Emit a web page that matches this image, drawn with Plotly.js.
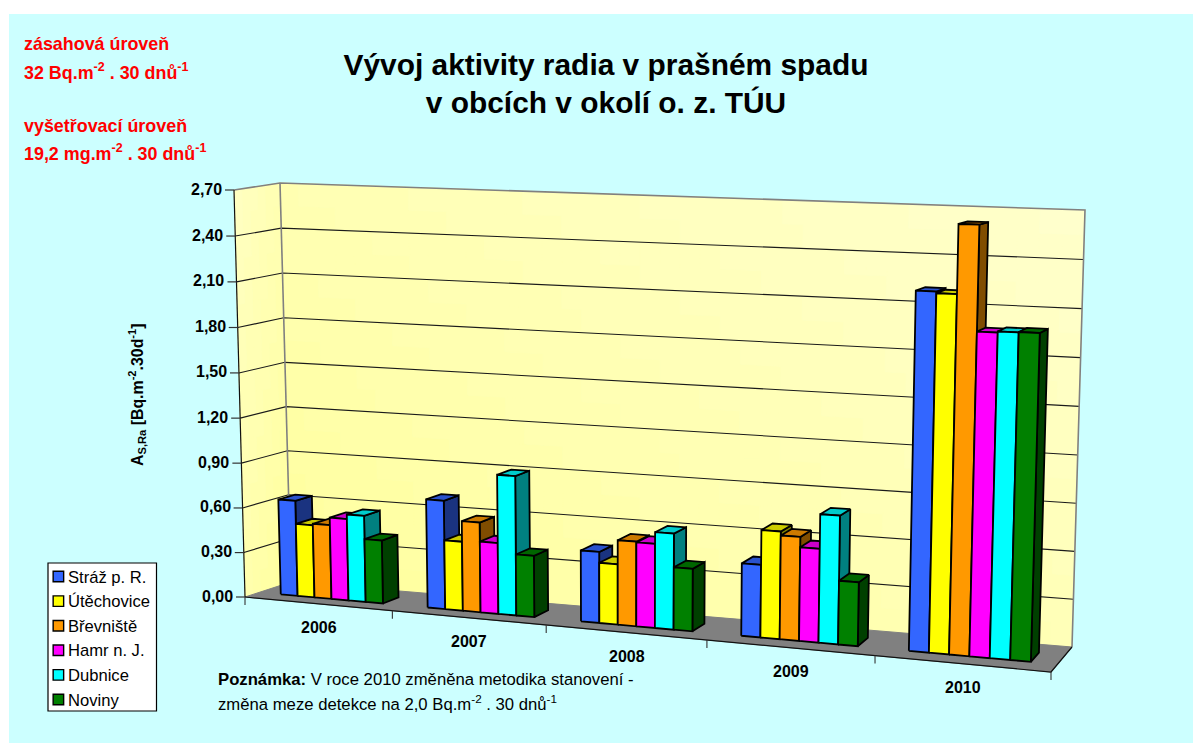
<!DOCTYPE html>
<html><head><meta charset="utf-8">
<script src="https://cdn.plot.ly/plotly-3.0.1.min.js"></script>
<style>html,body{margin:0;padding:0;background:#fff}</style>
</head><body><div id="chart" style="width:1193px;height:743px"></div>
<script>
// ---- data ----
const categories = ['2006','2007','2008','2009','2010'];
const seriesNames = ['Stráž p. R.','Útěchovice','Břevniště','Hamr n. J.','Dubnice','Noviny'];
const strazValues      = [0.64,0.715,0.46,0.46,2.21];
const utechoviceValues = [0.485,0.455,0.39,0.68,2.20];
const brevnisteValues  = [0.495,0.59,0.545,0.655,2.62];
const hamrValues       = [0.545,0.465,0.54,0.59,1.98];
const dubniceValues    = [0.575,0.91,0.615,0.806,1.987];
const novinyValues     = [0.42,0.40,0.40,0.40,1.99];
const tickValues = [0,0.3,0.6,0.9,1.2,1.5,1.8,2.1,2.4,2.7];

// ---- styles ----
const frontColors = ['#3366FF','#FFFF00','#FF9900','#FF00FF','#00FFFF','#008000'];
const topColors   = ['#2A52CC','#CCCC00','#CC7A00','#CC00CC','#00CCCC','#006600'];
const sideColors  = ['#1A3380','#808000','#804D00','#800080','#008080','#004000'];
const allValues = [strazValues,utechoviceValues,brevnisteValues,hamrValues,dubniceValues,novinyValues];
const FONT = 'Liberation Sans, Arial, sans-serif';

// ---- 3D view of the chart box: (u,v,z) -> picture axes ----
const floorQ = {fl:[245,597],fr:[1051,672],br:[1072,647],bl:[291,582]};
const topQ   = {fl:[234,190],fr:[1064,216],br:[1085,210],bl:[280,183]};
const P = -0.105, R = -0.02, ZMAX = 2.7;
function bil(q,u,v,i){
  return (1-v)*((1-u)*q.fl[i]+u*q.fr[i]) + v*((1-u)*q.bl[i]+u*q.br[i]);
}
function proj(c,v,val){           // c = category position 0..5, val = data value
  const u0 = c/categories.length;
  const u = u0*(1+P)/(1+P*u0);
  const z = val/ZMAX;
  const t = z*(1+R)/(1+R*z);
  const x0=bil(floorQ,u,v,0), y0=bil(floorQ,u,v,1), x1=bil(topQ,u,v,0), y1=bil(topQ,u,v,1);
  return [x0+(x1-x0)*t, y0+(y1-y0)*t];
}
const traces = [];
function poly(points,fill,lineColor,lineWidth){
  const pts = points.concat([points[0]]);
  traces.push({type:'scatter',mode:'lines',x:pts.map(p=>p[0]),y:pts.map(p=>p[1]),
    fill:'toself',fillcolor:fill,line:{color:lineColor,width:lineWidth},hoverinfo:'skip',showlegend:false});
}
function line(points,color,width){
  traces.push({type:'scatter',mode:'lines',x:points.map(p=>p[0]),y:points.map(p=>p[1]),
    line:{color:color,width:width},hoverinfo:'skip',showlegend:false});
}

// walls, painted as buckets of small cells for the soft gradient
const LEVELS = 14, buckets = Array.from({length:LEVELS},()=>({x:[],y:[]}));
function cell(a,b,c,d,t){
  const k = Math.max(0,Math.min(LEVELS-1,Math.round(t*(LEVELS-1))));
  const bk = buckets[k];
  [a,b,c,d,a].forEach(p=>{bk.x.push(p[0]);bk.y.push(p[1]);});
  bk.x.push(null);bk.y.push(null);
}
const NC=40,NZ=18,NV=6;
for(let i=0;i<NC;i++)for(let j=0;j<NZ;j++){
  const c0=5*i/NC,c1=5*(i+1)/NC,z0=ZMAX*j/NZ,z1=ZMAX*(j+1)/NZ;
  cell(proj(c0,1,z0),proj(c1,1,z0),proj(c1,1,z1),proj(c0,1,z1),0.08+0.5*(i+.5)/NC+0.42*(j+.5)/NZ);
}
for(let i=0;i<NV;i++)for(let j=0;j<NZ;j++){
  const v0=i/NV,v1=(i+1)/NV,z0=ZMAX*j/NZ,z1=ZMAX*(j+1)/NZ;
  cell(proj(0,v0,z0),proj(0,v1,z0),proj(0,v1,z1),proj(0,v0,z1),0.08+0.42*(j+.5)/NZ+0.3*(1-(i+.5)/NV));
}
buckets.forEach((bk,k)=>{
  const g = Math.round(0x99+(0xCC-0x99)*k/(LEVELS-1));
  const col = 'rgb(255,255,'+g+')';
  traces.push({type:'scatter',mode:'lines',x:bk.x,y:bk.y,fill:'toself',fillcolor:col,
    line:{color:col,width:1},hoverinfo:'skip',showlegend:false});
});

// gridlines on the walls
tickValues.slice(1,-1).forEach(val=>{
  line([proj(0,0,val),proj(0,1,val),proj(5,1,val)],'#1a1a1a',1.1);
});
// wall borders
line([proj(0,0,ZMAX),proj(0,1,ZMAX),proj(5,1,ZMAX),proj(5,1,0)],'#808080',1.6);
line([proj(0,1,ZMAX),proj(0,1,0)],'#808080',1.6);

// floor
poly([proj(0,0,0),proj(5,0,0),proj(5,1,0),proj(0,1,0)],'#808080','#808080',1);
line([proj(0,0,0),proj(5,0,0),proj(5,1,0)],'#111111',1.2);
line([proj(0,0,ZMAX),proj(0,0,0)],'#111111',1.2);

// value axis ticks and labels, category ticks
const annotations = [];
function txt(x,y,text,size,opt,weight){
  annotations.push(Object.assign({x:x,y:y,xref:'x',yref:'y',text:text,showarrow:false,
    xanchor:'left',yanchor:'middle',align:'left',
    font:{family:FONT,size:size,color:'#000',weight:weight||400}},opt||{}));
}
tickValues.forEach(val=>{
  const p = proj(0,0,val);
  line([[p[0]-9,p[1]],p],'#333333',1.2);
  txt(p[0]-10,p[1]-1,val.toFixed(2).replace('.',','),16,{xanchor:'right'},700);
});
for(let c=0;c<=5;c++){
  const p = proj(c,0,0);
  line([p,[p[0],p[1]+8]],'#333333',1.1);
}
categories.forEach((name,c)=>{
  const a=proj(c,0,0), b=proj(c+1,0,0);
  txt((a[0]+b[0])/2,(a[1]+b[1])/2+24,name,16,{xanchor:'center'},700);
});

// bars: painted left to right
const GROUP0=0.15, BARW=0.7/6, V0=0.31, V1=0.68;
categories.forEach((name,c)=>{
  seriesNames.forEach((s,k)=>{
    const a=c+GROUP0+k*BARW, b=a+BARW, val=allValues[k][c];
    poly([proj(b,V0,0),proj(b,V1,0),proj(b,V1,val),proj(b,V0,val)],sideColors[k],'#000',1.8);
    poly([proj(a,V0,val),proj(b,V0,val),proj(b,V1,val),proj(a,V1,val)],topColors[k],'#000',1.8);
    poly([proj(a,V0,0),proj(b,V0,0),proj(b,V0,val),proj(a,V0,val)],frontColors[k],'#000',1.8);
  });
});

// legend (swatches are series-coloured markers)
const legendX=58.4, legendY0=576.5, legendStep=24.6;
seriesNames.forEach((s,k)=>{
  traces.push({type:'scatter',mode:'markers',x:[legendX],y:[legendY0+k*legendStep],name:s,
    marker:{symbol:'square',size:10.5,color:frontColors[k],line:{color:'#000',width:1.4}},
    hoverinfo:'skip',showlegend:false});
  txt(legendX+8,legendY0+k*legendStep+0.5,s,16.6,{});
});

// free texts
[[44,'zásahová úroveň'],[71,'32 Bq.m<sup>-2</sup> . 30 dnů<sup>-1</sup>'],
 [126,'vyšetřovací úroveň'],[152,'19,2 mg.m<sup>-2</sup> . 30 dnů<sup>-1</sup>']].forEach(r=>{
  annotations.push({x:21.5,y:r[0],xref:'x',yref:'y',text:r[1],showarrow:false,xanchor:'left',yanchor:'middle',
    font:{family:FONT,size:17.9,color:'#FF0000',weight:700}});
});
txt(216,679,'<b>Poznámka:</b> V roce 2010 změněna metodika stanovení -',16.7,{});
txt(216,703,'změna meze detekce na 2,0 Bq.m<sup>-2</sup> . 30 dnů<sup>-1</sup>',16.7,{});
txt(137,395,'A<sub>S,Ra</sub> [Bq.m<sup>-2</sup>.30d<sup>-1</sup>]',15.9,{xanchor:'center',textangle:-90},700);

const layout = {
  width:1193,height:743,autosize:false,
  margin:{l:9,t:14,r:0,b:0,pad:0},
  paper_bgcolor:'#FFFFFF',plot_bgcolor:'#CCFFFF',
  showlegend:false,
  title:{text:'Vývoj aktivity radia v prašném spadu<br>v obcích v okolí o. z. TÚU',
    font:{family:FONT,size:29.9,color:'#000',weight:700},x:606/1193,xanchor:'center',y:1-74.5/743,yanchor:'middle'},
  xaxis:{range:[9,1193],visible:false,fixedrange:true},
  yaxis:{range:[743,14],visible:false,fixedrange:true},
  shapes:[{type:'rect',xref:'x',yref:'y',x0:48,x1:156.5,y0:563,y1:711,fillcolor:'#FFFFFF',line:{color:'#000',width:1.2},layer:'below'}],
  annotations:annotations
};
Plotly.newPlot('chart',traces,layout,{displayModeBar:false,staticPlot:true});
</script></body></html>
